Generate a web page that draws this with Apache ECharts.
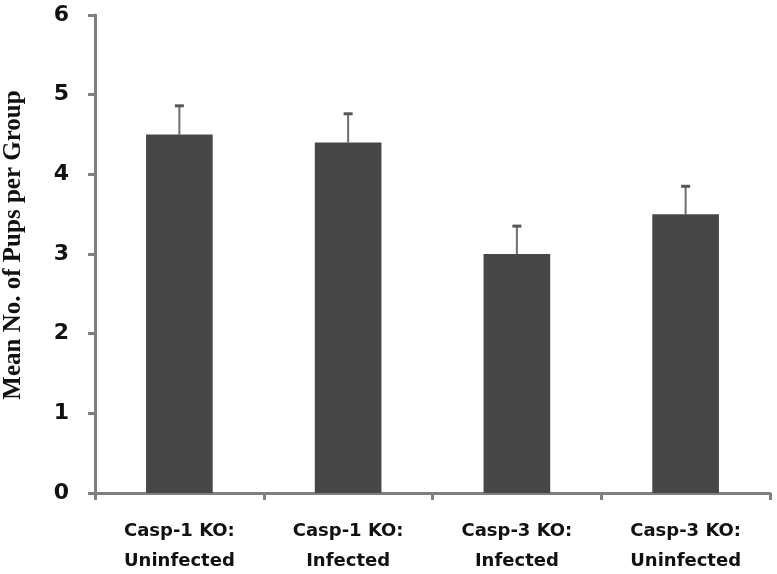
<!DOCTYPE html>
<html><head><meta charset="utf-8">
<script src="https://cdn.jsdelivr.net/npm/echarts@6/dist/echarts.min.js"></script>
<style>html,body{margin:0;padding:0;background:#fff}#c{width:777px;height:574px}</style>
</head><body><div id="c"></div>
<script>
const categories = ['Casp-1 KO:\nUninfected', 'Casp-1 KO:\nInfected', 'Casp-3 KO:\nInfected', 'Casp-3 KO:\nUninfected'];
const means = [4.5, 4.4, 3.0, 3.5];
const errors = [0.36, 0.36, 0.35, 0.35];
const yTicks = [0, 1, 2, 3, 4, 5, 6];
const yTitle = 'Mean No. of Pups per Group';

const chart = echarts.init(document.getElementById('c'), null, {renderer: 'canvas'});
const errData = means.map((m, i) => [i, m, m + errors[i]]);
chart.setOption({
  animation: false,
  grid: {left: 95, right: 7, top: 15, bottom: 81, containLabel: false, outerBoundsMode: 'none'},
  graphic: [{
    type: 'text', x: 14, y: 245, rotation: Math.PI / 2,
    style: {text: yTitle, fontFamily: 'Liberation Serif', fontWeight: 'bold', fontSize: 25, fill: '#111',
            textAlign: 'center', textVerticalAlign: 'middle'}
  }],
  xAxis: {
    type: 'category', data: categories,
    axisLine: {lineStyle: {color: '#7f7f7f', width: 3}},
    axisTick: {show: true, length: 7, alignWithLabel: false, lineStyle: {color: '#7f7f7f', width: 3}},
    axisLabel: {margin: 23, color: '#111', fontFamily: 'DejaVu Sans', fontWeight: 'bold', fontSize: 18, lineHeight: 30}
  },
  yAxis: {
    type: 'value', min: yTicks[0], max: yTicks[yTicks.length - 1], interval: 1,
    splitLine: {show: false},
    axisLine: {show: true, lineStyle: {color: '#7f7f7f', width: 3}},
    axisTick: {show: true, length: 7, lineStyle: {color: '#7f7f7f', width: 3}},
    axisLabel: {margin: 26, color: '#111', fontFamily: 'DejaVu Sans', fontWeight: 'bold', fontSize: 22}
  },
  series: [{
    type: 'bar', data: means, barWidth: '39.5%',
    itemStyle: {color: '#474747'}
  }, {
    type: 'custom', data: errData, z: 1,
    renderItem: function (params, api) {
      const x = api.value(0);
      const lo = api.coord([x, api.value(1)]);
      const hi = api.coord([x, api.value(2)]);
      const capHalf = 4.5;
      return {type: 'group', children: [
        {type: 'line', shape: {x1: lo[0], y1: lo[1], x2: hi[0], y2: hi[1]}, style: {stroke: '#6e6e6e', lineWidth: 2}},
        {type: 'line', shape: {x1: hi[0] - capHalf, y1: hi[1], x2: hi[0] + capHalf, y2: hi[1]}, style: {stroke: '#555', lineWidth: 3}}
      ]};
    }
  }]
});
</script></body></html>
